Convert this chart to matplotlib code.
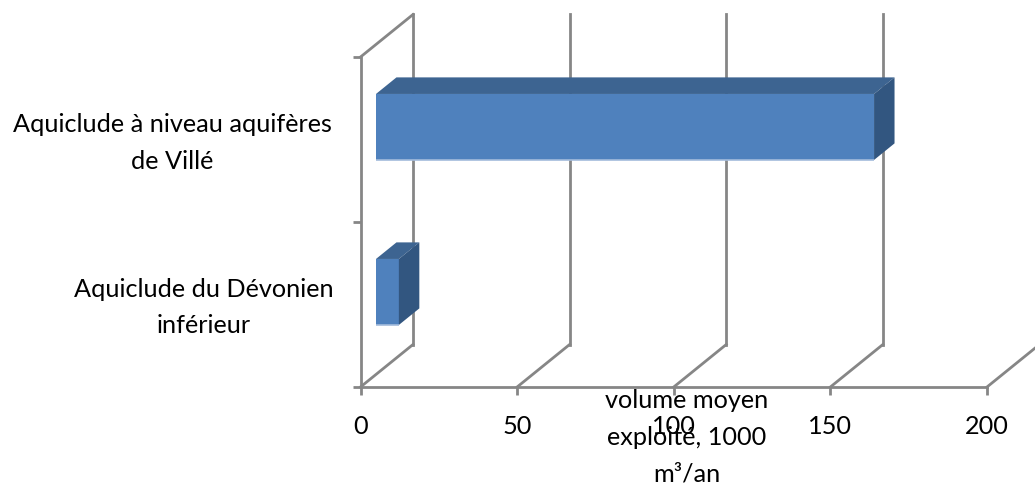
import matplotlib
matplotlib.use("Agg")
import matplotlib.pyplot as plt
from matplotlib.patches import Polygon

category_lines = [("Aquiclude du Dévonien", "inférieur"), ("Aquiclude à niveau aquifères", "de Villé")]
volumes = [7.3, 159]
x_ticks = [0, 50, 100, 150, 200]
y_ticks = [0, 1, 2]
x_title = "volume moyen\nexploité, 1000\nm³/an"

GRID = "#868686"
FRONT = "#4f81bd"
TOP = "#3d6491"
SIDE = "#325680"
EDGE = "#a3bbdc"
W, H = 1035, 483
FS = 18.2
LW = 2.0

plt.rcParams["font.family"] = ["Lato", "DejaVu Sans"]

fig = plt.figure(figsize=(W / 100, H / 100), dpi=100)
ax = fig.add_axes([360.5 / W, 1 - 387 / H, 626.5 / W, 330 / H])
ax.set_xlim(0, 200)
ax.set_ylim(0, 2)

# depth of the fake 3d box, in data units
depth_x = 52.5 * 200 / 626.5
depth_y = 42.5 * 2 / 330

# back wall and floor lines
for t in x_ticks:
    ax.plot([t, t + depth_x], [0, depth_y], color=GRID, lw=LW, clip_on=False, zorder=1)
    ax.plot([t + depth_x, t + depth_x], [depth_y, 2 + depth_y], color=GRID, lw=LW, clip_on=False, zorder=1)
ax.plot([0, depth_x], [2, 2 + depth_y], color=GRID, lw=LW, clip_on=False, zorder=1)

# bars: front face from barh, top and side as polygons
off_x = 0.295 * depth_x
off_y = 0.295 * depth_y
bar_dx = 0.39 * depth_x
bar_dy = 0.39 * depth_y
bar_h = 0.4
for i, v in enumerate(volumes):
    c = i + 0.5 + off_y
    x0, x1 = off_x, off_x + v
    y0, y1 = c - bar_h / 2, c + bar_h / 2
    ax.barh(c, v, height=bar_h, left=off_x, color=FRONT, zorder=3)
    ax.plot([x0, x1], [y0, y0], color=EDGE, lw=1.2, solid_capstyle="butt", zorder=4)
    ax.add_patch(Polygon([(x0, y1), (x1, y1), (x1 + bar_dx, y1 + bar_dy), (x0 + bar_dx, y1 + bar_dy)],
                         closed=True, fc=TOP, ec="none", zorder=3))
    ax.add_patch(Polygon([(x1, y0), (x1 + bar_dx, y0 + bar_dy), (x1 + bar_dx, y1 + bar_dy), (x1, y1)],
                         closed=True, fc=SIDE, ec="none", zorder=3))

for s in ["top", "right"]:
    ax.spines[s].set_visible(False)
for s in ["left", "bottom"]:
    ax.spines[s].set_color(GRID)
    ax.spines[s].set_linewidth(LW)
    ax.spines[s].set_zorder(2)

ax.set_xticks(x_ticks)
ax.set_yticks(y_ticks)
ax.set_yticklabels([])
ax.tick_params(axis="both", color=GRID, width=LW, length=5.5)
ax.tick_params(axis="x", labelsize=FS, pad=14.5, labelcolor="black")

# category labels are placed line by line to the left of the axis
line_x = [(-50, -50), (-60, -60)]
line_y = [(0.545, 0.327), (1.545, 1.321)]
for lines, xs, ys in zip(category_lines, line_x, line_y):
    for text, lx, ly in zip(lines, xs, ys):
        ax.text(lx, ly, text, ha="center", va="baseline", fontsize=FS, color="black")

ax.text(104.2, -0.57, x_title, ha="center", va="baseline", multialignment="center",
        fontsize=FS, linespacing=1.7, color="black")

fig.savefig("out.png", dpi=100)
